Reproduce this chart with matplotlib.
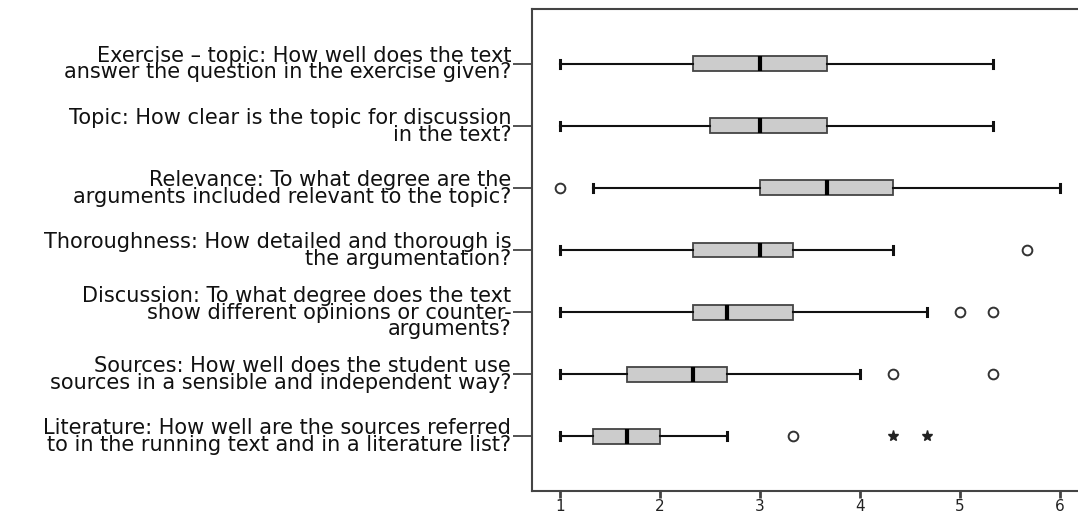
import matplotlib
matplotlib.use("Agg")
import matplotlib.pyplot as plt

labels = [
    "Exercise \u2013 topic: How well does the text\nanswer the question in the exercise given?",
    "Topic: How clear is the topic for discussion\nin the text?",
    "Relevance: To what degree are the\narguments included relevant to the topic?",
    "Thoroughness: How detailed and thorough is\nthe argumentation?",
    "Discussion: To what degree does the text\nshow different opinions or counter-\narguments?",
    "Sources: How well does the student use\nsources in a sensible and independent way?",
    "Literature: How well are the sources referred\nto in the running text and in a literature list?",
]
whislo = [1.0, 1.0, 1.33, 1.0, 1.0, 1.0, 1.0]
q1 = [2.33, 2.5, 3.0, 2.33, 2.33, 1.67, 1.33]
med = [3.0, 3.0, 3.67, 3.0, 2.67, 2.33, 1.67]
q3 = [3.67, 3.67, 4.33, 3.33, 3.33, 2.67, 2.0]
whishi = [5.33, 5.33, 6.0, 4.33, 4.67, 4.0, 2.67]
outliers = [[], [], [1.0], [5.67], [5.0, 5.33], [4.33, 5.33], [3.33]]
extremes = [[], [], [], [], [], [], [4.33, 4.67]]
xticks = [1, 2, 3, 4, 5, 6]

stats = []
for i in range(len(labels)):
    stats.append(dict(label=labels[i], whislo=whislo[i], q1=q1[i], med=med[i],
                      q3=q3[i], whishi=whishi[i], fliers=outliers[i]))

fig = plt.figure(figsize=(10.78, 5.18), dpi=100)
ax = fig.add_axes([532 / 1078, 1 - 491 / 518, 1 - 532 / 1078, (491 - 9) / 518])

positions = list(range(1, len(labels) + 1))
ax.bxp(stats, positions=positions, orientation='horizontal', widths=0.24,
       capwidths=0.13, patch_artist=True,
       boxprops=dict(facecolor='#cccccc', edgecolor='#444444', linewidth=1.3),
       medianprops=dict(color='black', linewidth=3),
       whiskerprops=dict(color='#111111', linewidth=1.5),
       capprops=dict(color='#111111', linewidth=2.2),
       flierprops=dict(marker='o', markersize=7, markerfacecolor='none',
                       markeredgecolor='#333333', markeredgewidth=1.4))

for pos, ext in zip(positions, extremes):
    if ext:
        ax.plot(ext, [pos] * len(ext), linestyle='none', marker='*',
                markersize=8, color='#222222')

ax.set_xlim(0.72, 6.18)
ax.set_ylim(7.88, 0.12)
ax.set_xticks(xticks)
ax.set_xticklabels([str(t) for t in xticks], fontsize=11, color='#222222')
for lab in ax.get_yticklabels():
    lab.set_fontsize(15)
    lab.set_linespacing(0.8)
    lab.set_color('#111111')
ax.tick_params(axis='y', length=14, width=1.3, color='#444444', pad=1)
ax.tick_params(axis='x', length=5, width=2, color='#444444', pad=1)
for side in ['left', 'top', 'bottom']:
    ax.spines[side].set_color('#444444')
    ax.spines[side].set_linewidth(1.5)
ax.spines['right'].set_visible(False)

fig.savefig('out.png', dpi=100)
